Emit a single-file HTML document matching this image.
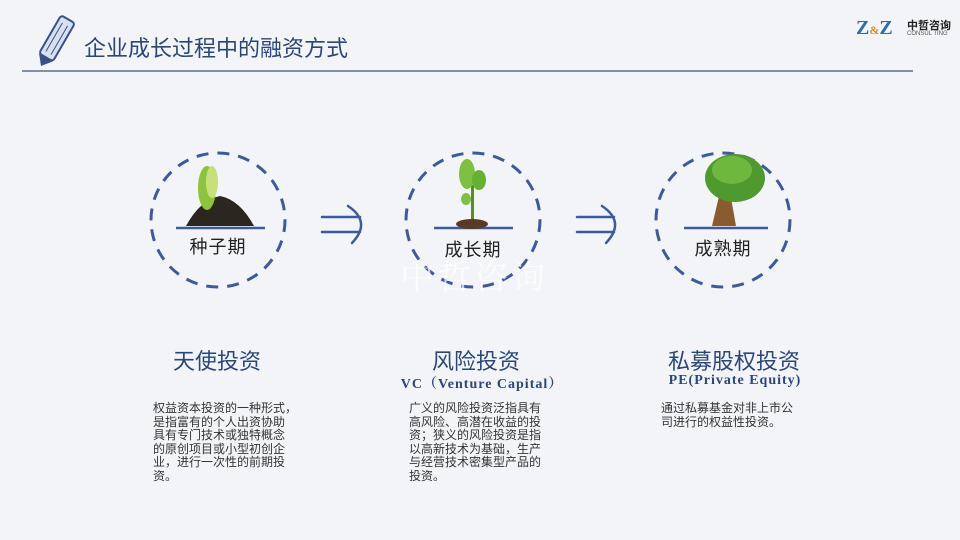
<!DOCTYPE html>
<html><head><meta charset="utf-8"><style>
body{margin:0;width:960px;height:540px;overflow:hidden;background:#f3f4f7;font-family:"Liberation Sans","Noto Sans CJK SC",sans-serif;position:relative}
.a{position:absolute}
.h{color:#2b4677;font-size:22px;white-space:nowrap;transform:translateX(-50%)}
.s{color:#2b4677;font-size:14px;font-family:"Liberation Serif","Noto Serif CJK SC",serif;font-weight:bold;white-space:nowrap;transform:translateX(-50%);letter-spacing:1px}
.t{color:#333;font-size:12px;line-height:13.5px;white-space:nowrap}
.l{color:#222;font-size:18px;white-space:nowrap;transform:translateX(-50%);letter-spacing:1px}
</style></head><body>
<svg class="a" style="left:0;top:0" width="960" height="540">
<line x1="22" y1="71" x2="913" y2="71" stroke="#3a5188" stroke-width="1.2"/>
<g transform="translate(56,40) rotate(30)"><rect x="-8" y="-24" width="16" height="44" rx="3" fill="#d8dfee" stroke="#3a5188" stroke-width="2"/><polygon points="-8,20 8,20 0,30" fill="#3a5188"/><line x1="-3" y1="-18" x2="-3" y2="15" stroke="#3a5188"/><line x1="3" y1="-18" x2="3" y2="15" stroke="#3a5188"/></g>
<g fill="none" stroke="#3d5a9a" stroke-width="3" stroke-dasharray="12 9">
<circle cx="218" cy="220" r="67"/><circle cx="473" cy="220" r="67"/><circle cx="723" cy="220" r="67"/></g>
<g stroke="#3d5a9a" stroke-width="2.5"><line x1="176" y1="228" x2="265" y2="228"/><line x1="434" y1="228" x2="513" y2="228"/><line x1="684" y1="228" x2="768" y2="228"/></g>
<g fill="none" stroke="#3d5a9a" stroke-width="2.5" stroke-linecap="round">
<path d="M322 217 H360 M322 232 H360 M348 206 Q372 222 352 243"/>
<path d="M577 217 H614 M577 232 H614 M602 206 Q626 222 606 243"/></g>
<g><path d="M186 226 Q200 200 220 196 Q240 200 254 226 Z" fill="#2b2620"/><ellipse cx="207" cy="188" rx="9" ry="22" fill="#8cc43d"/><ellipse cx="212" cy="182" rx="6" ry="16" fill="#c8e07a"/>
<rect x="471" y="185" width="3" height="38" fill="#5a8a2a"/><ellipse cx="472" cy="224" rx="16" ry="5" fill="#5a3a22"/><ellipse cx="467" cy="174" rx="8" ry="15" fill="#7dc042"/><ellipse cx="479" cy="180" rx="7" ry="10" fill="#66b032"/><ellipse cx="466" cy="199" rx="5" ry="6" fill="#7dc042"/>
<path d="M712 226 L720 192 L730 192 L736 226 Z" fill="#8a5a30"/><ellipse cx="735" cy="178" rx="30" ry="24" fill="#4f9a2e"/><ellipse cx="732" cy="170" rx="20" ry="14" fill="#6fb83f"/></g>
</svg>
<div class="a" style="left:84px;top:31px;font-size:22px;color:#2b4677">企业成长过程中的融资方式</div>
<div class="a" style="left:856px;top:17px;font-size:20px;font-weight:bold;color:#2b6db0;font-family:'Liberation Serif',serif">Z<span style="font-size:12px;color:#e08a2a">&amp;</span>Z</div>
<div class="a" style="left:907px;top:17px;font-size:11px;color:#222;font-weight:bold">中哲咨询</div>
<div class="a" style="left:907px;top:31px;font-size:6px;color:#555">CONSUL TING</div>
<div class="a" style="left:400px;top:250px;font-size:34px;color:rgba(255,255,255,.7);letter-spacing:3px;font-family:'Noto Serif CJK SC',serif">中哲咨询</div>
<div class="a l" style="left:218px;top:233px">种子期</div>
<div class="a l" style="left:473px;top:236px">成长期</div>
<div class="a l" style="left:723px;top:235px">成熟期</div>
<div class="a h" style="left:217px;top:344px">天使投资</div>
<div class="a h" style="left:476px;top:344px">风险投资</div>
<div class="a h" style="left:734px;top:344px">私募股权投资</div>
<div class="a s" style="left:482px;top:373px">VC（Venture Capital）</div>
<div class="a s" style="left:735px;top:373px">PE(Private Equity)</div>
<div class="a t" style="left:153px;top:402px">权益资本投资的一种形式，<br>是指富有的个人出资协助<br>具有专门技术或独特概念<br>的原创项目或小型初创企<br>业，进行一次性的前期投<br>资。</div>
<div class="a t" style="left:409px;top:402px">广义的风险投资泛指具有<br>高风险、高潜在收益的投<br>资；狭义的风险投资是指<br>以高新技术为基础，生产<br>与经营技术密集型产品的<br>投资。</div>
<div class="a t" style="left:661px;top:402px">通过私募基金对非上市公<br>司进行的权益性投资。</div>
</body></html>
